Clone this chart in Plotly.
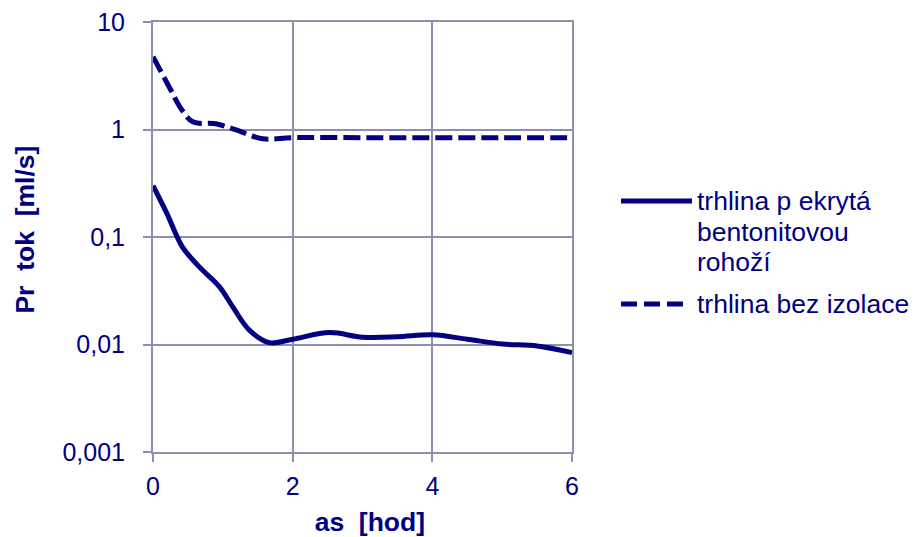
import plotly.graph_objects as go

# Data
x_bento = [0, 0.2, 0.42, 0.66, 0.95, 1.14, 1.38, 1.67, 2.0, 2.53, 3.0, 3.5, 4.0, 4.5, 5.0, 5.5, 6.0]
y_bento = [0.30, 0.165, 0.081, 0.053, 0.0345, 0.0225, 0.0136, 0.0104, 0.0112, 0.0129, 0.0117,
           0.0118, 0.0123, 0.0112, 0.0101, 0.0097, 0.0084]
x_bez = [0, 0.23, 0.4, 0.57, 0.9, 1.19, 1.57, 2.0, 3.0, 4.0, 5.0, 6.0]
y_bez = [4.75, 2.5, 1.57, 1.18, 1.13, 0.99, 0.82, 0.84, 0.84, 0.84, 0.84, 0.84]

y_tickvals = [0.001, 0.01, 0.1, 1, 10]
y_ticktext = ["0,001", "0,01", "0,1", "1", "10"]
x_tickvals = [0, 2, 4, 6]

series_names = ["trhlina p ekrytá<br>bentonitovou<br>rohoží", "trhlina bez izolace"]
x_title = "\u00a0\u00a0as  [hod]"
y_title = "\u00a0\u00a0Pr  tok  [ml/s]"

NAVY = "#000080"
GRID = "#8E8EAE"
FONT = "Liberation Sans, Arial, sans-serif"

OFF = 8  # page body margin
W, H = 918 - OFF, 537 - OFF
L, T = 153 - OFF, 22 - OFF
PW, PH = 419, 430
R, B = W - L - PW, H - T - PH


def px2x(px):
    return (px - OFF - L) / PW


def px2y(py):
    return 1 - (py - OFF - T) / PH


fig = go.Figure()
fig.add_trace(go.Scatter(x=x_bento, y=y_bento, mode="lines",
                         line=dict(color=NAVY, width=5, shape="spline", smoothing=1),
                         showlegend=False))
fig.add_trace(go.Scatter(x=x_bez, y=y_bez, mode="lines",
                         line=dict(color=NAVY, width=5, shape="spline", smoothing=1, dash="17px,6px"),
                         showlegend=False))

# Manual legend
fig.add_shape(type="line", xref="paper", yref="paper",
              x0=px2x(621), x1=px2x(692), y0=px2y(201), y1=px2y(201),
              line=dict(color=NAVY, width=5))
fig.add_shape(type="line", xref="paper", yref="paper",
              x0=px2x(621), x1=px2x(683), y0=px2y(304), y1=px2y(304),
              line=dict(color=NAVY, width=5, dash="16px,7px"))
legend_lines = series_names[0].split("<br>")
for i, t in enumerate(legend_lines):
    fig.add_annotation(text=t, xref="paper", yref="paper", x=px2x(695), y=px2y(201 + 30.5 * i),
                       xanchor="left", yanchor="middle", showarrow=False,
                       font=dict(family=FONT, size=26.5, color=NAVY))
fig.add_annotation(text=series_names[1], xref="paper", yref="paper", x=px2x(695), y=px2y(304),
                   xanchor="left", yanchor="middle", showarrow=False,
                   font=dict(family=FONT, size=26.5, color=NAVY))

fig.update_layout(
    width=W, height=H,
    margin=dict(l=L, r=R, t=T, b=B),
    paper_bgcolor="white", plot_bgcolor="white",
    font=dict(family=FONT, size=25, color=NAVY),
    showlegend=False,
)
fig.update_xaxes(range=[0, 6], tickvals=x_tickvals, showgrid=True, gridcolor=GRID, gridwidth=2,
                 showline=True, linecolor=GRID, linewidth=2, mirror=True,
                 ticks="outside", ticklen=8, tickwidth=2, tickcolor=GRID, zeroline=False,
                 ticklabelstandoff=3, automargin=False, ticklabeloverflow="allow",
                 tickfont=dict(size=25, color=NAVY),
                 title=dict(text="<b>" + x_title + "</b>", font=dict(size=26.5, color=NAVY), standoff=16))
fig.update_yaxes(type="log", range=[-3, 1], tickvals=y_tickvals, ticktext=y_ticktext,
                 showgrid=True, gridcolor=GRID, gridwidth=2,
                 showline=True, linecolor=GRID, linewidth=2, mirror=True,
                 ticks="outside", ticklen=8, tickwidth=2, tickcolor=GRID, zeroline=False,
                 ticklabelstandoff=13, automargin=False, ticklabeloverflow="allow",
                 tickfont=dict(size=25, color=NAVY),
                 title=dict(text="<b>" + y_title + "</b>", font=dict(size=26.5, color=NAVY), standoff=20))

fig.write_html("out.html")
